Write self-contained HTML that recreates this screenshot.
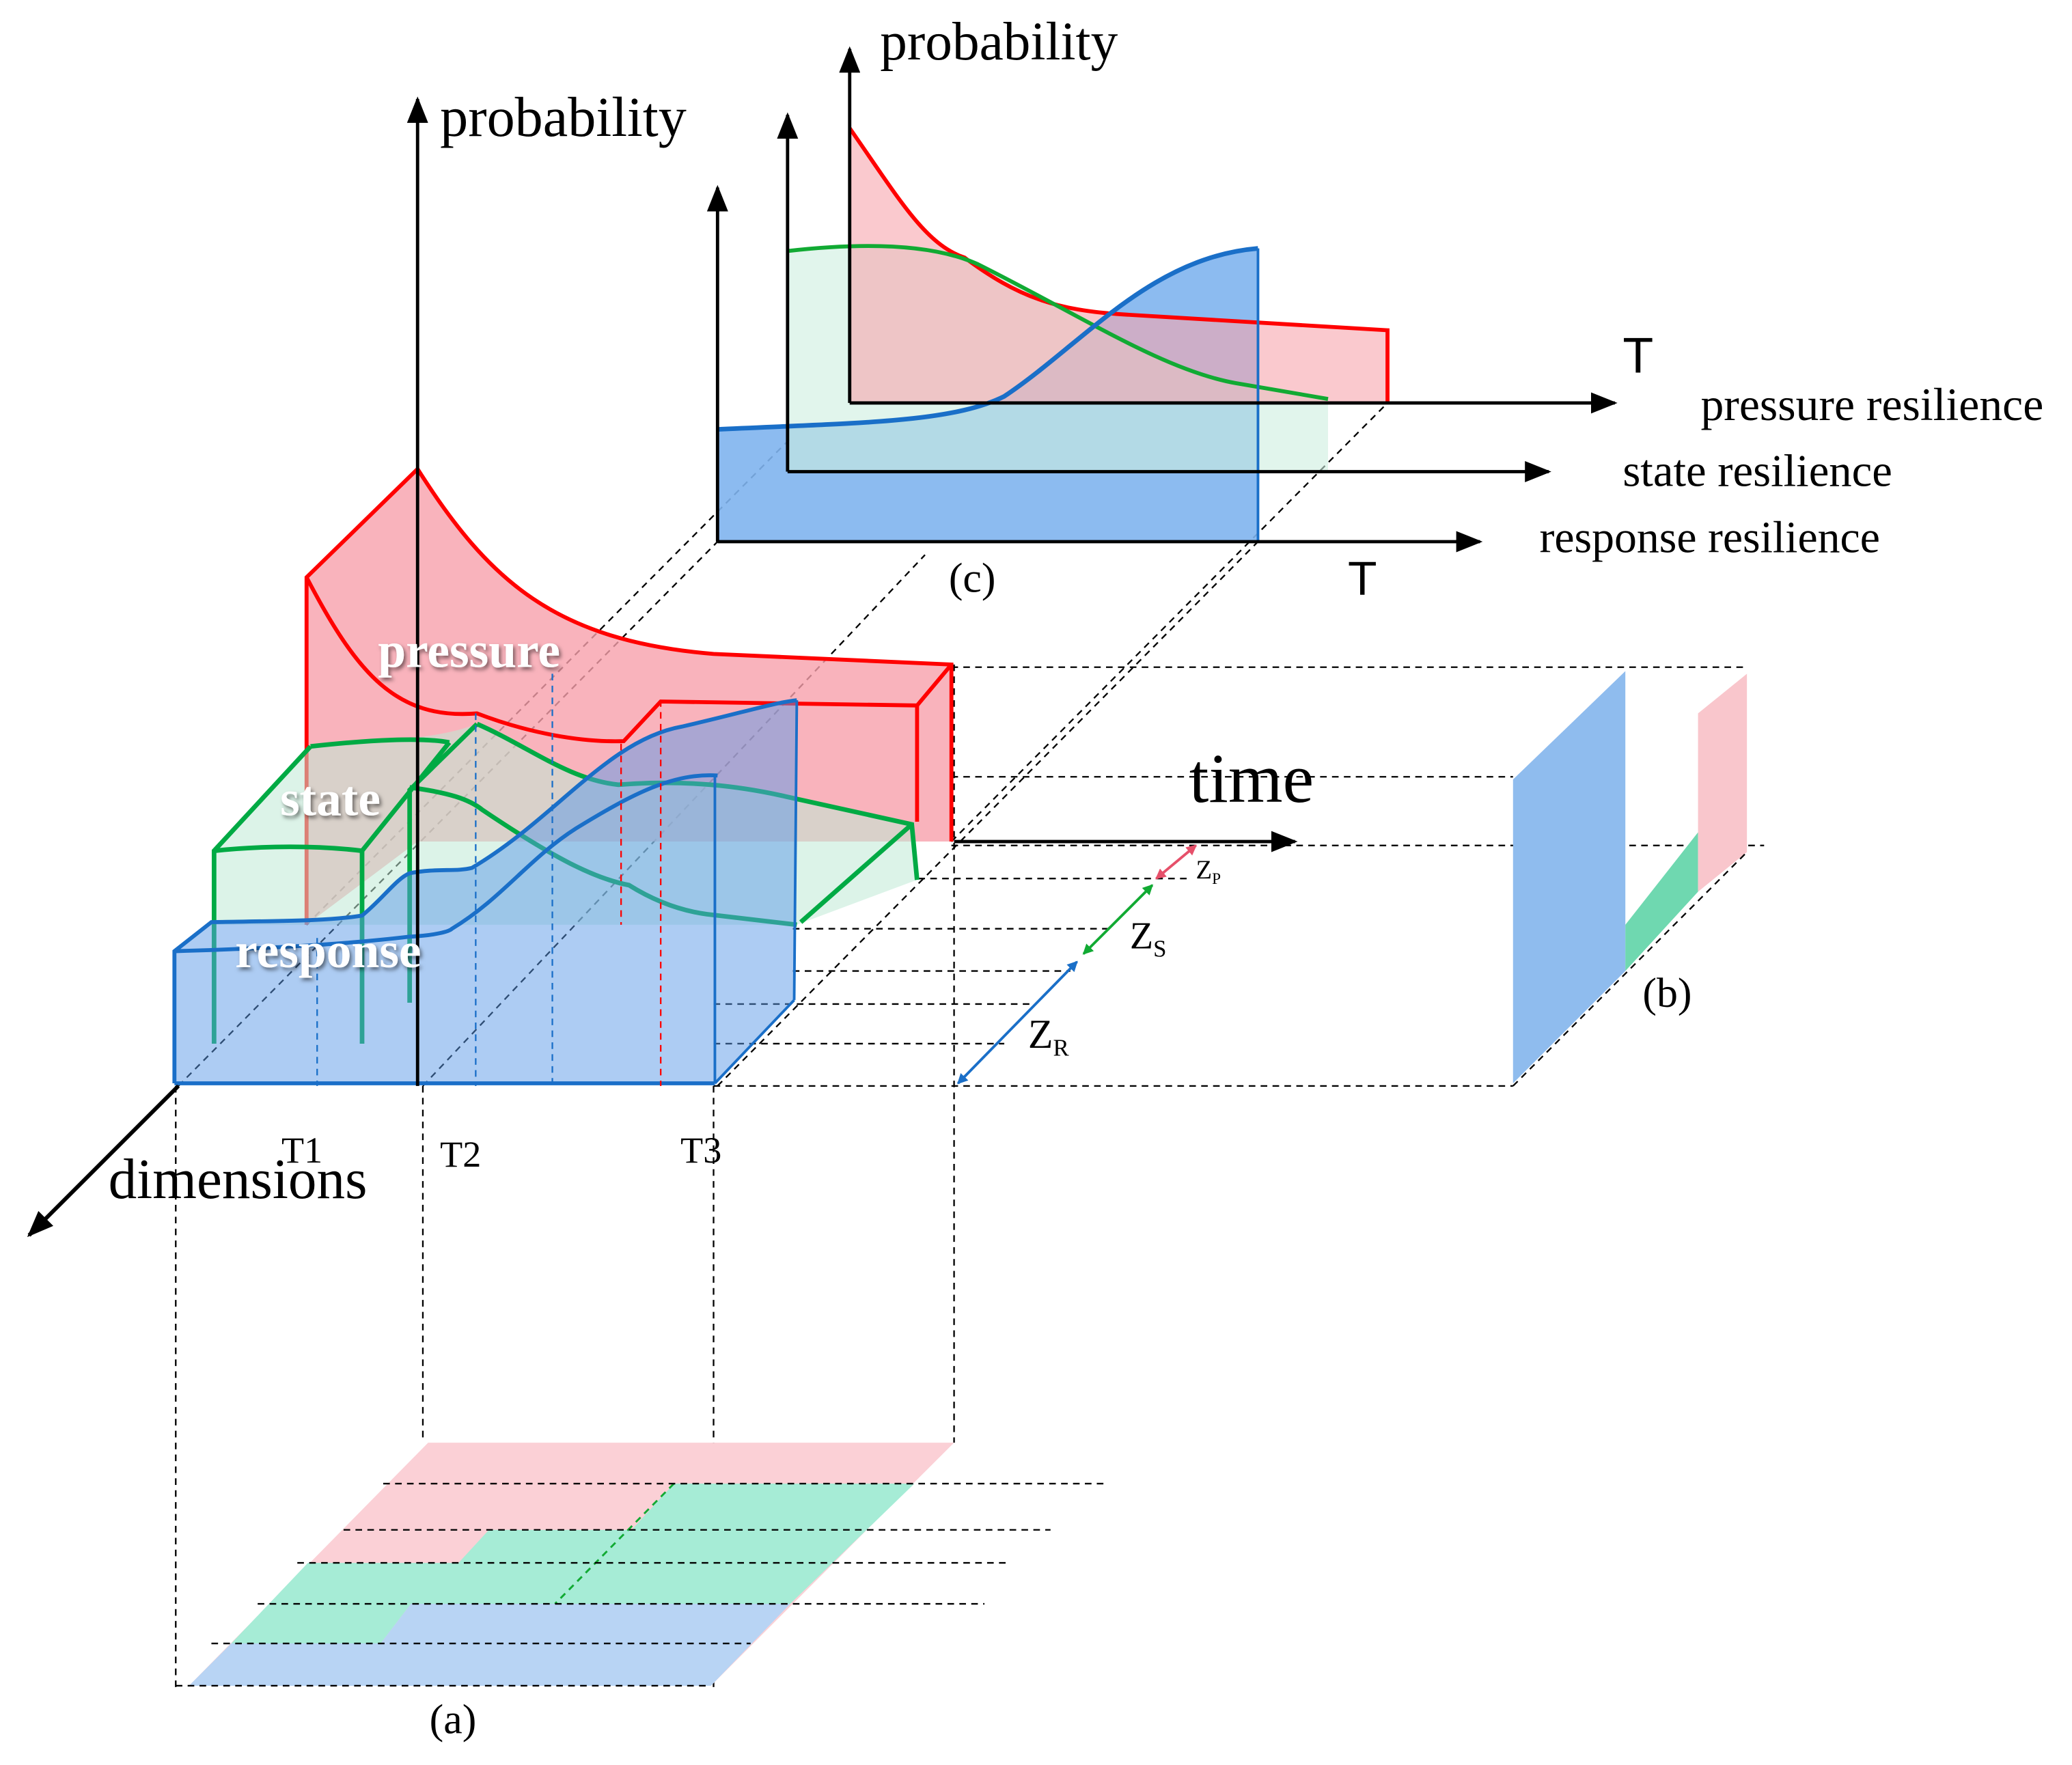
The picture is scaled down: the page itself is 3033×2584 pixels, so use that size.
<!DOCTYPE html>
<html><head><meta charset="utf-8"><style>
html,body{margin:0;padding:0;background:#fff;}
svg{display:block;}
text{font-family:"Liberation Serif",serif;fill:#000;}
</style></head><body>
<svg width="3033" height="2584" viewBox="0 0 1568 1336" preserveAspectRatio="none" xmlns="http://www.w3.org/2000/svg">
<defs>
<marker id="ahb" markerWidth="20" markerHeight="16" refX="18" refY="8" orient="auto" markerUnits="userSpaceOnUse"><path d="M0,0 L20,8 L0,16 Z" fill="#000"/></marker>
<marker id="sr" markerWidth="8" markerHeight="8" refX="7" refY="4" orient="auto-start-reverse" markerUnits="userSpaceOnUse"><path d="M0,0 L8,4 L0,8 Z" fill="#e6506a"/></marker>
<marker id="sg" markerWidth="8" markerHeight="8" refX="7" refY="4" orient="auto-start-reverse" markerUnits="userSpaceOnUse"><path d="M0,0 L8,4 L0,8 Z" fill="#1a3"/></marker>
<marker id="sb" markerWidth="8" markerHeight="8" refX="7" refY="4" orient="auto-start-reverse" markerUnits="userSpaceOnUse"><path d="M0,0 L8,4 L0,8 Z" fill="#1a6fc8"/></marker>
<filter id="sh" x="-10%" y="-20%" width="130%" height="150%"><feDropShadow dx="1.5" dy="2" stdDeviation="1.5" flood-color="#000" flood-opacity="0.5"/></filter>
</defs>

<g stroke="#000" stroke-width="1.2" stroke-dasharray="5,4" fill="none">
<line x1="135" y1="822" x2="543" y2="410"/>
<line x1="320" y1="822" x2="700" y2="420"/>
<line x1="543" y1="822" x2="952" y2="410"/>
<line x1="720" y1="637" x2="1050" y2="305"/>
<line x1="232" y1="700" x2="600" y2="330"/>
<line x1="133" y1="822" x2="133" y2="1277"/>
<line x1="320" y1="822" x2="320" y2="1092"/>
<line x1="540" y1="822" x2="540" y2="1277"/>
<line x1="722" y1="503" x2="722" y2="1092"/>
<line x1="720" y1="505" x2="1320" y2="505"/>
<line x1="720" y1="588" x2="1145" y2="588"/>
<line x1="720" y1="640" x2="1335" y2="640"/>
<line x1="695" y1="665" x2="900" y2="665"/>
<line x1="600" y1="703" x2="840" y2="703"/>
<line x1="600" y1="735" x2="810" y2="735"/>
<line x1="540" y1="760" x2="780" y2="760"/>
<line x1="540" y1="790" x2="760" y2="790"/>
<line x1="540" y1="822" x2="1145" y2="822"/>
</g>

<!-- panel (c) -->
<path d="M543,325 C650,320 720,320 760,300 C820,260 870,195 952,188 L952,410 L543,410 Z" fill="#7fb4ee" opacity="0.9"/>
<path d="M596,190 C640,185 700,182 740,200 C820,240 880,280 935,290 L1005,302 L1005,357 L596,357 Z" fill="#cdeee0" opacity="0.6"/>
<path d="M643,97 C680,150 700,185 730,195 C770,225 800,235 850,238 L1050,250 L1050,305 L643,305 Z" fill="#f7a5ae" opacity="0.6"/>
<path d="M643,97 C680,150 700,185 730,195 C770,225 800,235 850,238 L1050,250 L1050,305" fill="none" stroke="#f00" stroke-width="3"/>
<path d="M596,190 C640,185 700,182 740,200 C820,240 880,280 935,290 L1005,302" fill="none" stroke="#1a3" stroke-width="3"/>
<path d="M543,325 C650,320 720,320 760,300 C820,260 870,195 952,188" fill="none" stroke="#1a6fc8" stroke-width="3.5"/>
<line x1="952" y1="188" x2="952" y2="410" stroke="#1a6fc8" stroke-width="2"/>
<g stroke="#000" stroke-width="2.5">
<line x1="543" y1="410" x2="543" y2="142" marker-end="url(#ahb)"/>
<line x1="596" y1="357" x2="596" y2="87" marker-end="url(#ahb)"/>
<line x1="643" y1="305" x2="643" y2="37" marker-end="url(#ahb)"/>
<line x1="543" y1="410" x2="1120" y2="410" marker-end="url(#ahb)"/>
<line x1="596" y1="357" x2="1172" y2="357" marker-end="url(#ahb)"/>
<line x1="643" y1="305" x2="1222" y2="305" marker-end="url(#ahb)"/>
</g>
<text x="666" y="45" font-size="41">probability</text>
<text x="1228" y="282" font-size="38" style="font-family:'Liberation Sans',sans-serif">T</text>
<text x="1287" y="318" font-size="35">pressure resilience</text>
<text x="1228" y="368" font-size="34.5">state resilience</text>
<text x="1165" y="418" font-size="34">response resilience</text>
<text x="718" y="448" font-size="32">(c)</text>
<text x="1020" y="450" font-size="36" style="font-family:'Liberation Sans',sans-serif">T</text>

<!-- pressure -->
<path d="M232,700 L232,437 L316,355 C370,440 420,485 540,495 L720,503 L720,637 L316,637 Z" fill="#f7a0ab" opacity="0.8"/>
<g fill="none" stroke="#f00" stroke-width="3">
<path d="M232,700 L232,437 L316,355 C370,440 420,485 540,495 L720,503 L720,637"/>
<path d="M232,437 C270,510 300,545 361,540 C400,555 440,562 472,561 L500,531 L694,534 L720,503"/>
<line x1="694" y1="534" x2="694" y2="622"/>
</g>
<!-- state -->
<path d="M162,644 L235,565 C290,560 330,560 361,548 C400,565 430,590 468,594 C520,590 560,595 595,603 L690,624 L694,666 L603,700 L162,700 Z" fill="#bfead6" opacity="0.55"/>
<g fill="none" stroke="#0a4" stroke-width="3.5">
<path d="M162,790 L162,644 L235,565"/>
<path d="M162,644 C200,640 240,640 274,644 L340,562"/>
<path d="M235,565 C280,560 320,558 340,562"/>
<line x1="274" y1="644" x2="274" y2="790"/>
<path d="M310,759 L310,598 L361,548"/>
<path d="M361,548 C400,565 430,590 468,594 C520,590 560,595 595,603 L690,624 L694,666"/>
<path d="M310,596 C340,600 355,605 365,613 C420,650 450,665 476,670 C500,685 520,690 535,692 L603,700"/>
<line x1="606" y1="698" x2="690" y2="624"/>
</g>
<!-- response -->
<path d="M132,720 L160,698 C220,697 250,697 274,693 C290,680 300,665 310,661 C330,657 345,660 357,657 C420,620 460,560 516,550 C560,540 585,532 603,530 L601,757 L541,820 L132,820 Z" fill="#5c99e8" opacity="0.5"/>
<g fill="none" stroke="#1a6fc8" stroke-width="3">
<path d="M132,820 L132,720 L160,698 C220,697 250,697 274,693 C290,680 300,665 310,661 C330,657 345,660 357,657 C420,620 460,560 516,550 C560,540 585,532 603,530"/>
<path d="M132,720 C200,718 260,715 310,709 C330,708 340,705 342,703 C380,680 400,650 436,627 C480,600 510,585 543,587"/>
<line x1="132" y1="820" x2="541" y2="820"/>
</g>
<g fill="none" stroke="#1a6fc8" stroke-width="2">
<line x1="541" y1="587" x2="541" y2="820"/>
<line x1="603" y1="530" x2="601" y2="757"/>
<line x1="601" y1="757" x2="541" y2="820"/>
</g>
<g stroke-width="1.2" stroke-dasharray="5,4" fill="none">
<line x1="240" y1="710" x2="240" y2="822" stroke="#1a6fc8"/>
<line x1="360" y1="540" x2="360" y2="822" stroke="#1a6fc8"/>
<line x1="418" y1="510" x2="418" y2="822" stroke="#1a6fc8"/>
<line x1="500" y1="530" x2="500" y2="822" stroke="#f00"/>
<line x1="470" y1="563" x2="470" y2="700" stroke="#f00"/>
</g>
<line x1="316" y1="822" x2="316" y2="75" stroke="#000" stroke-width="2.5" marker-end="url(#ahb)"/>
<line x1="135" y1="822" x2="22" y2="935" stroke="#000" stroke-width="3" marker-end="url(#ahb)"/>
<line x1="722" y1="637" x2="980" y2="637" stroke="#000" stroke-width="2.5" marker-end="url(#ahb)"/>
<text x="333" y="103" font-size="42.5">probability</text>
<text x="82" y="907" font-size="43">dimensions</text>
<text x="900" y="607" font-size="53">time</text>
<g filter="url(#sh)" font-weight="bold">
<text x="286" y="505" font-size="38" style="fill:#fff">pressure</text>
<text x="212" y="617" font-size="38" style="fill:#fff">state</text>
<text x="178" y="732" font-size="38" style="fill:#fff">response</text>
</g>
<text x="213" y="880" font-size="28">T1</text>
<text x="333" y="883" font-size="28">T2</text>
<text x="515" y="880" font-size="28">T3</text>

<line x1="875" y1="665" x2="905" y2="640" stroke="#e6506a" stroke-width="2" marker-start="url(#sr)" marker-end="url(#sr)"/>
<line x1="820" y1="722" x2="872" y2="670" stroke="#1a3" stroke-width="2" marker-start="url(#sg)" marker-end="url(#sg)"/>
<line x1="725" y1="820" x2="815" y2="728" stroke="#1a6fc8" stroke-width="2" marker-start="url(#sb)" marker-end="url(#sb)"/>
<text x="905" y="665" font-size="20">Z<tspan font-size="12" dy="4">P</tspan></text>
<text x="855" y="718" font-size="29">Z<tspan font-size="18" dy="6">S</tspan></text>
<text x="778" y="793" font-size="31">Z<tspan font-size="18" dy="6">R</tspan></text>

<!-- panel (b) -->
<polygon points="1145,590 1230,508 1230,735 1145,820" fill="#8fbcee"/>
<polygon points="1230,700 1285,630 1285,675 1230,735" fill="#6fd8b0"/>
<polygon points="1285,540 1322,510 1322,645 1285,675" fill="#f9c6cc"/>
<line x1="1145" y1="822" x2="1322" y2="645" stroke="#000" stroke-width="1.2" stroke-dasharray="5,4"/>
<text x="1243" y="762" font-size="32">(b)</text>

<!-- panel (a) -->
<polygon points="324,1092 722,1092 538,1276 143,1276" fill="#fbd0d6"/>
<polygon points="510,1123 692,1123 598,1214 311,1214 288,1244 175,1244 233,1183 347,1183 370,1158 478,1158" fill="#a6ecd6"/>
<polygon points="311,1214 598,1214 538,1276 143,1276 175,1244 288,1244" fill="#b8d4f4"/>
<line x1="510" y1="1123" x2="420" y2="1214" stroke="#1a3" stroke-width="1.5" stroke-dasharray="5,4"/>
<g stroke="#000" stroke-width="1.2" stroke-dasharray="5,4">
<line x1="290" y1="1123" x2="835" y2="1123"/>
<line x1="260" y1="1158" x2="795" y2="1158"/>
<line x1="225" y1="1183" x2="765" y2="1183"/>
<line x1="195" y1="1214" x2="745" y2="1214"/>
<line x1="160" y1="1244" x2="568" y2="1244"/>
<line x1="133" y1="1276" x2="538" y2="1276"/>
</g>
<text x="325" y="1312" font-size="32">(a)</text>
</svg>
</body></html>
